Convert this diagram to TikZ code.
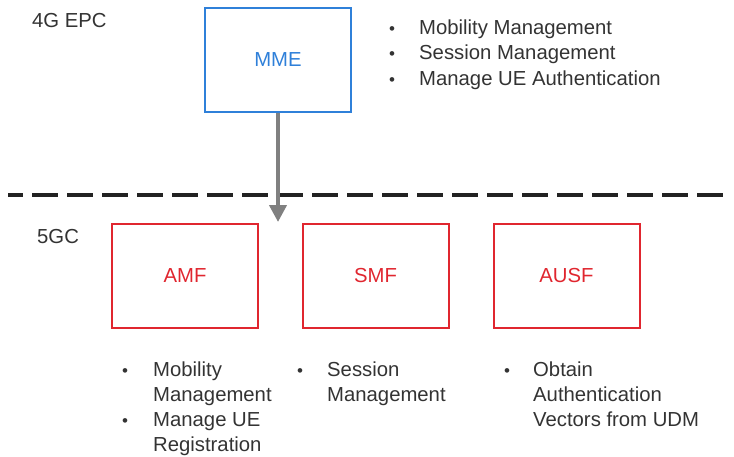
\documentclass[tikz,border=0pt]{standalone}
\usepackage{fontspec}
\setmainfont{Liberation Sans}
\usetikzlibrary{arrows.meta}
\definecolor{boxblue}{HTML}{2F80D9}
\definecolor{boxred}{HTML}{E0262F}
\definecolor{txt}{HTML}{333333}
\definecolor{arrgray}{HTML}{808080}
\definecolor{dashcol}{HTML}{222222}
\begin{document}
\begin{tikzpicture}[x=1pt,y=-1pt,
  font=\fontsize{20.3}{25}\selectfont,
  nf/.style={draw, line width=2pt, minimum width=146pt, minimum height=104pt, inner sep=0pt},
  blue nf/.style={nf, draw=boxblue, text=boxblue},
  red nf/.style={nf, draw=boxred, text=boxred},
  lbl/.style={text=txt, anchor=base west, inner sep=0pt},
  bul/.style={text=txt, anchor=base, inner sep=0pt, font=\fontsize{17}{17}\selectfont}]
\useasboundingbox (0,0) rectangle (734,456);

% section labels
\node[lbl] (epc) at (32,27) {4G EPC};
\node[lbl] (fivegc) at (37,243) {5GC};

% boxes
\node[blue nf] (mme) at (278,60) {MME};
\node[red nf] (amf) at (185,275.5) {AMF};
\node[red nf] (smf) at (375.5,275.5) {SMF};
\node[red nf] (ausf) at (566.5,275.5) {AUSF};

% dashed separator
\coordinate (dl) at (8,194.5);
\coordinate (dr) at (727,194.5);
\draw[dashcol, line width=4pt, dash pattern=on 26pt off 9pt, dash phase=11pt] (dl) -- (dr);

% arrow
\coordinate (tip) at (278,222);
\draw[arrgray, line width=4pt, -{Triangle[width=17pt,length=17pt]}] (mme.south) -- (tip);

% MME list
\node[bul] (b1) at (392,34) {•};
\node[lbl] (t1) at (419,34) {Mobility Management};
\node[bul] (b2) at (392,59.5) {•};
\node[lbl] (t2) at (419,59.5) {Session Management};
\node[bul] (b3) at (392,85) {•};
\node[lbl] (t3) at (419,85) {Manage UE Authentication};

% AMF list
\node[bul] (ab1) at (125,376) {•};
\node[lbl] (at1) at (153,376) {Mobility};
\node[lbl] (at2) at (153,401) {Management};
\node[bul] (ab2) at (125,426.5) {•};
\node[lbl] (at3) at (153,426.5) {Manage UE};
\node[lbl] (at4) at (153,451.5) {Registration};

% SMF list
\node[bul] (sb1) at (300,376) {•};
\node[lbl] (st1) at (327,376) {Session};
\node[lbl] (st2) at (327,401) {Management};

% AUSF list
\node[bul] (ub1) at (507,376) {•};
\node[lbl] (ut1) at (533,376) {Obtain};
\node[lbl] (ut2) at (533,401) {Authentication};
\node[lbl] (ut3) at (533,426.5) {Vectors from UDM};
\end{tikzpicture}
\end{document}
